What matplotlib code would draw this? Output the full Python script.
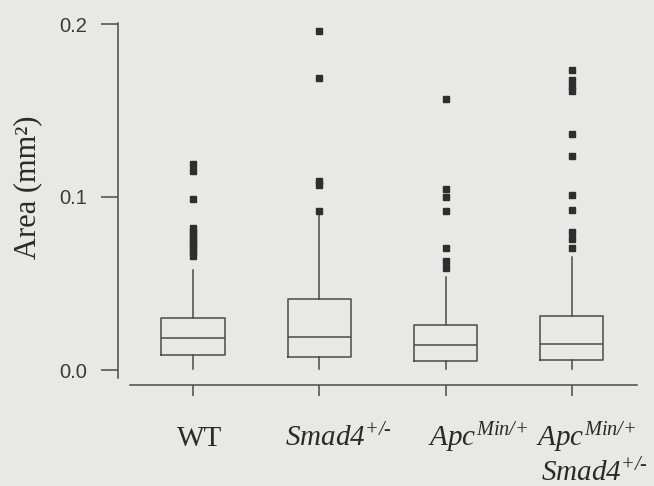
import matplotlib
matplotlib.use("Agg")
import matplotlib.pyplot as plt

plt.rcParams['mathtext.fontset'] = 'custom'
plt.rcParams['mathtext.rm'] = 'Liberation Serif:italic'
plt.rcParams['mathtext.it'] = 'Liberation Serif:italic'
plt.rcParams['mathtext.bf'] = 'Liberation Serif:bold'

# ---- data ----
categories = ["WT", r"$Smad4^{\text{+/-}}$", r"$Apc^{\text{Min/+}}$",
              r"$Apc^{\text{Min/+}}$" + "\n" + r"$Smad4^{\text{+/-}}$"]
q1 = [0.0087, 0.0077, 0.0054, 0.0058]
median = [0.0183, 0.0189, 0.0145, 0.0148]
q3 = [0.0299, 0.0409, 0.0260, 0.0312]
whisker_low = [0.0003, 0.0003, 0.0003, 0.0003]
whisker_high = [0.0580, 0.0895, 0.0539, 0.0655]
outliers_wt = [0.119, 0.115, 0.099, 0.082, 0.080, 0.078, 0.076, 0.074,
               0.072, 0.070, 0.068, 0.066]
outliers_smad4 = [0.196, 0.169, 0.109, 0.107, 0.092]
outliers_apc = [0.1565, 0.1046, 0.1002, 0.0919, 0.0703, 0.0632, 0.0588]
outliers_apc_smad4 = [0.1734, 0.1676, 0.1640, 0.1613, 0.1364, 0.1237, 0.1012,
                      0.0925, 0.0800, 0.0755, 0.0703]
yticks = [0.0, 0.1, 0.2]
ytick_labels = ["0.0", "0.1", "0.2"]

fliers = [outliers_wt, outliers_smad4, outliers_apc, outliers_apc_smad4]

bg = '#e8e8e6'
line_c = '#4a4a4a'
text_c = '#2a2a2a'
W, H = 654, 486

fig = plt.figure(figsize=(6.54, 4.86), dpi=100, facecolor=bg)
ax = fig.add_axes([118/W, (H-385)/H, 522/W, (385-23)/H])
ax.set_facecolor(bg)

stats = []
for i in range(len(categories)):
    stats.append(dict(med=median[i], q1=q1[i], q3=q3[i],
                      whislo=whisker_low[i], whishi=whisker_high[i],
                      fliers=fliers[i]))
positions = list(range(1, len(categories) + 1))
ax.bxp(stats, positions=positions, widths=0.5, showcaps=False,
       boxprops=dict(color=line_c, linewidth=1.1),
       medianprops=dict(color=line_c, linewidth=1.1),
       whiskerprops=dict(color=line_c, linewidth=1.1),
       flierprops=dict(marker='s', markersize=4.2, markerfacecolor='#2e2e2e',
                       markeredgecolor='#2e2e2e', linestyle='none'))

px_per = 126.3
x0 = 1 + (118 - 193) / px_per
x1 = 1 + (640 - 193) / px_per
ax.set_xlim(x0, x1)
ylo = (370 - 385) / 1730
yhi = (370 - 23) / 1730
ax.set_ylim(ylo, yhi)

for s in ['top', 'right']:
    ax.spines[s].set_visible(False)
ax.spines['left'].set_bounds((370 - 378) / 1730, yhi)
ax.spines['bottom'].set_bounds(1 + (130 - 193) / px_per, 1 + (637 - 193) / px_per)
for s in ['left', 'bottom']:
    ax.spines[s].set_color(line_c)
    ax.spines[s].set_linewidth(1.1)

ax.set_yticks(yticks)
ax.set_yticklabels(ytick_labels, family='Liberation Sans', fontsize=14.5, color='#3a3a3a')
ax.tick_params(axis='y', direction='out', length=12, width=1.1, color=line_c, pad=10)
ax.set_xticks(positions)
ax.set_xticklabels([])
ax.tick_params(axis='x', direction='out', length=8, width=1.1, color=line_c)

# category labels (pixel placement, slightly right of ticks as in the original)
lab_fs = 21
label_centers = [200, 338, 478]
base1 = (H - 446) / H
for i, lab in enumerate(categories[:3]):
    fig.text(label_centers[i] / W, base1, lab, ha='center', va='baseline',
             family='Liberation Serif', fontsize=lab_fs, color=text_c)
lines4 = categories[3].split("\n")
fig.text(536 / W, base1, lines4[0], ha='left', va='baseline',
         family='Liberation Serif', fontsize=lab_fs, color=text_c)
fig.text(541 / W, (H - 481) / H, lines4[1], ha='left', va='baseline',
         family='Liberation Serif', fontsize=lab_fs, color=text_c)

fig.text(28 / W, (H - 187) / H, "Area (mm²)", rotation=90, ha='center', va='center',
         family='Liberation Serif', fontsize=22, color=text_c)

fig.savefig("out.png", dpi=100, facecolor=bg)
